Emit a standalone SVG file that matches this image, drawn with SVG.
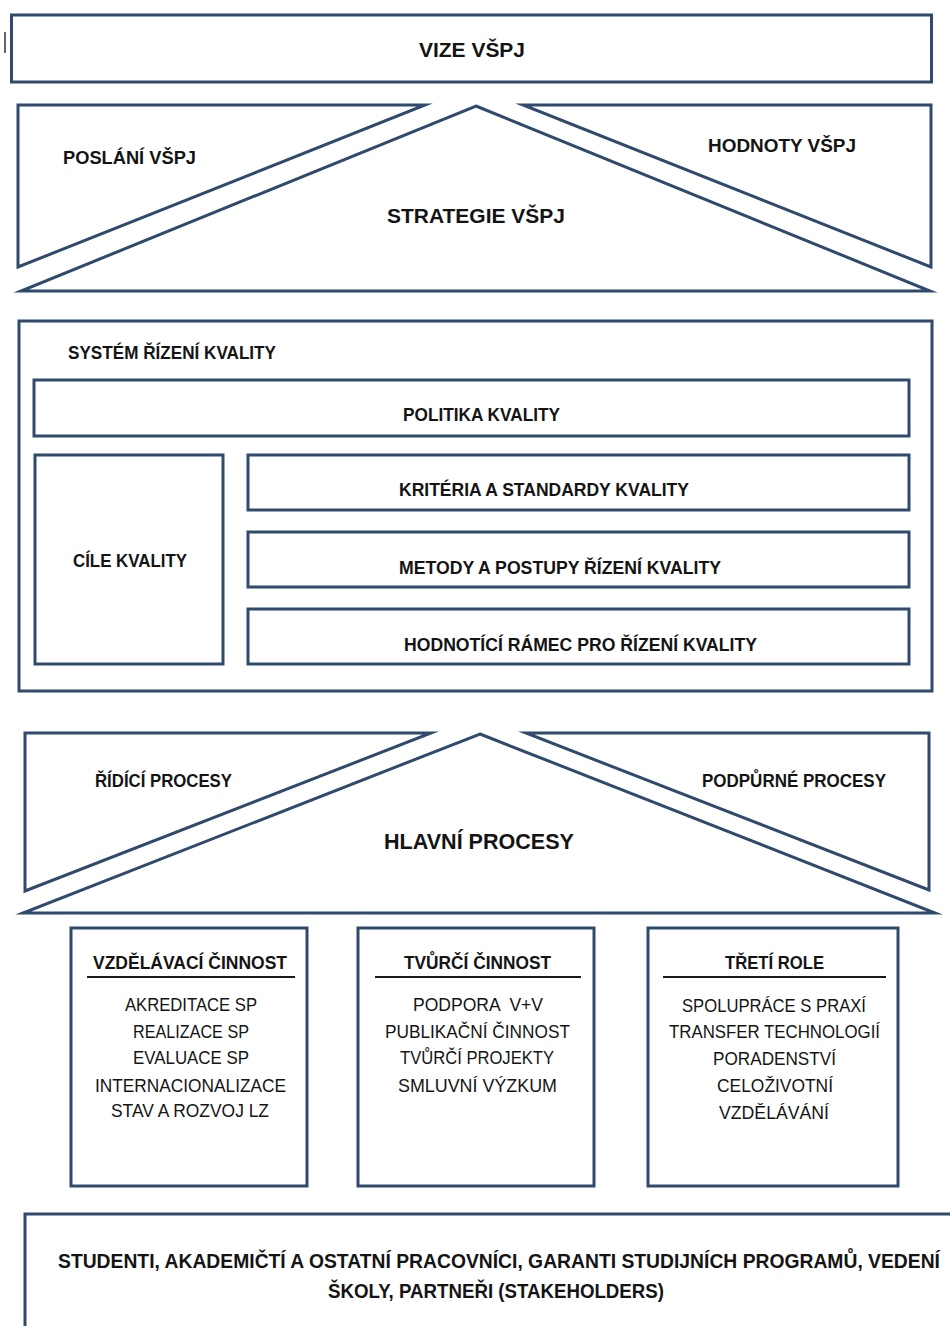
<svg xmlns="http://www.w3.org/2000/svg" width="950" height="1326" viewBox="0 0 950 1326">
<style>
.s{fill:#fff;stroke:#2f4a6d;stroke-width:3;stroke-linejoin:miter;stroke-miterlimit:12}
.t{font-family:"Liberation Sans",Arial,sans-serif;fill:#141414}
.b{font-weight:bold}
.u{stroke:#1a1a1a;stroke-width:2}
</style>
<rect width="950" height="1326" fill="#fff"/>
<line x1="5" y1="32" x2="5" y2="53" stroke="#333" stroke-width="1.5"/>
<g id="vize">
<rect class="s" x="11.5" y="15" width="920" height="67"/>
<text class="t b" x="419" y="57" font-size="21" textLength="106" lengthAdjust="spacingAndGlyphs">VIZE VŠPJ</text>
</g>
<g id="poslani">
<polygon class="s" points="18,105 425,105 18,267"/>
<text class="t b" x="63" y="164" font-size="18" textLength="133" lengthAdjust="spacingAndGlyphs">POSLÁNÍ VŠPJ</text>
</g>
<g id="strategie">
<polygon class="s" points="476,106 930,291 21,291"/>
<text class="t b" x="387" y="223" font-size="21" textLength="178" lengthAdjust="spacingAndGlyphs">STRATEGIE VŠPJ</text>
</g>
<g id="hodnoty">
<polygon class="s" points="523,105 931,105 931,267"/>
<text class="t b" x="708" y="152" font-size="18" textLength="148" lengthAdjust="spacingAndGlyphs">HODNOTY VŠPJ</text>
</g>
<g id="system">
<rect class="s" x="19" y="321" width="913" height="370"/>
<text class="t b" x="68" y="359" font-size="18" textLength="208" lengthAdjust="spacingAndGlyphs">SYSTÉM ŘÍZENÍ KVALITY</text>
</g>
<g id="politika">
<rect class="s" x="34" y="380" width="875" height="56"/>
<text class="t b" x="403" y="421" font-size="18" textLength="157" lengthAdjust="spacingAndGlyphs">POLITIKA KVALITY</text>
</g>
<g id="cile">
<rect class="s" x="35" y="455" width="188" height="209"/>
<text class="t b" x="73" y="567" font-size="18" textLength="114" lengthAdjust="spacingAndGlyphs">CÍLE KVALITY</text>
</g>
<g id="kriteria">
<rect class="s" x="248" y="455" width="661" height="55"/>
<text class="t b" x="399" y="496" font-size="18" textLength="290" lengthAdjust="spacingAndGlyphs">KRITÉRIA A STANDARDY KVALITY</text>
</g>
<g id="metody">
<rect class="s" x="248" y="532" width="661" height="55"/>
<text class="t b" x="399" y="574" font-size="18" textLength="322" lengthAdjust="spacingAndGlyphs">METODY A POSTUPY ŘÍZENÍ KVALITY</text>
</g>
<g id="hodnotici">
<rect class="s" x="248" y="609" width="661" height="55"/>
<text class="t b" x="404" y="651" font-size="18" textLength="353" lengthAdjust="spacingAndGlyphs">HODNOTÍCÍ RÁMEC PRO ŘÍZENÍ KVALITY</text>
</g>
<g id="ridici">
<polygon class="s" points="25,733 431,733 25,891"/>
<text class="t b" x="95" y="787" font-size="18" textLength="137" lengthAdjust="spacingAndGlyphs">ŘÍDÍCÍ PROCESY</text>
</g>
<g id="hlavni">
<polygon class="s" points="480,734 935,913 23,913"/>
<text class="t b" x="384" y="849" font-size="22" textLength="190" lengthAdjust="spacingAndGlyphs">HLAVNÍ PROCESY</text>
</g>
<g id="podpurne">
<polygon class="s" points="526,733 929,733 929,890"/>
<text class="t b" x="702" y="787" font-size="18" textLength="184" lengthAdjust="spacingAndGlyphs">PODPŮRNÉ PROCESY</text>
</g>
<g id="vzdelavaci">
<rect class="s" x="71" y="928" width="236" height="258"/>
<text class="t b" x="93" y="969" font-size="19" textLength="194" lengthAdjust="spacingAndGlyphs">VZDĚLÁVACÍ ČINNOST</text>
<line class="u" x1="87" y1="977" x2="295" y2="977"/>
<text class="t" x="125" y="1011" font-size="18" textLength="132" lengthAdjust="spacingAndGlyphs">AKREDITACE SP</text>
<text class="t" x="133" y="1038" font-size="18" textLength="116" lengthAdjust="spacingAndGlyphs">REALIZACE SP</text>
<text class="t" x="133" y="1064" font-size="18" textLength="116" lengthAdjust="spacingAndGlyphs">EVALUACE SP</text>
<text class="t" x="95" y="1092" font-size="18" textLength="191" lengthAdjust="spacingAndGlyphs">INTERNACIONALIZACE</text>
<text class="t" x="111" y="1117" font-size="18" textLength="158" lengthAdjust="spacingAndGlyphs">STAV A ROZVOJ LZ</text>
</g>
<g id="tvurci">
<rect class="s" x="358" y="928" width="236" height="258"/>
<text class="t b" x="404" y="969" font-size="19" textLength="147" lengthAdjust="spacingAndGlyphs">TVŮRČÍ ČINNOST</text>
<line class="u" x1="375" y1="977" x2="581" y2="977"/>
<text class="t" x="413" y="1011" font-size="18" textLength="130" lengthAdjust="spacingAndGlyphs" xml:space="preserve">PODPORA  V+V</text>
<text class="t" x="385" y="1038" font-size="18" textLength="185" lengthAdjust="spacingAndGlyphs">PUBLIKAČNÍ ČINNOST</text>
<text class="t" x="400" y="1064" font-size="18" textLength="154" lengthAdjust="spacingAndGlyphs">TVŮRČÍ PROJEKTY</text>
<text class="t" x="398" y="1092" font-size="18" textLength="159" lengthAdjust="spacingAndGlyphs">SMLUVNÍ VÝZKUM</text>
</g>
<g id="treti">
<rect class="s" x="648" y="928" width="250" height="258"/>
<text class="t b" x="725" y="969" font-size="19" textLength="99" lengthAdjust="spacingAndGlyphs">TŘETÍ ROLE</text>
<line class="u" x1="663" y1="977" x2="886" y2="977"/>
<text class="t" x="682" y="1012" font-size="18" textLength="184" lengthAdjust="spacingAndGlyphs">SPOLUPRÁCE S PRAXÍ</text>
<text class="t" x="669" y="1038" font-size="18" textLength="211" lengthAdjust="spacingAndGlyphs">TRANSFER TECHNOLOGIÍ</text>
<text class="t" x="713" y="1065" font-size="18" textLength="123" lengthAdjust="spacingAndGlyphs">PORADENSTVÍ</text>
<text class="t" x="717" y="1092" font-size="18" textLength="116" lengthAdjust="spacingAndGlyphs">CELOŽIVOTNÍ</text>
<text class="t" x="719" y="1119" font-size="18" textLength="110" lengthAdjust="spacingAndGlyphs">VZDĚLÁVÁNÍ</text>
</g>
<g id="stakeholders">
<rect class="s" x="25" y="1214" width="940" height="130"/>
<text class="t b" x="58" y="1268" font-size="20" textLength="882" lengthAdjust="spacingAndGlyphs">STUDENTI, AKADEMIČTÍ A OSTATNÍ PRACOVNÍCI, GARANTI STUDIJNÍCH PROGRAMŮ, VEDENÍ</text>
<text class="t b" x="328" y="1298" font-size="20" textLength="336" lengthAdjust="spacingAndGlyphs">ŠKOLY, PARTNEŘI (STAKEHOLDERS)</text>
</g>
<g id="connectors"/>
</svg>
